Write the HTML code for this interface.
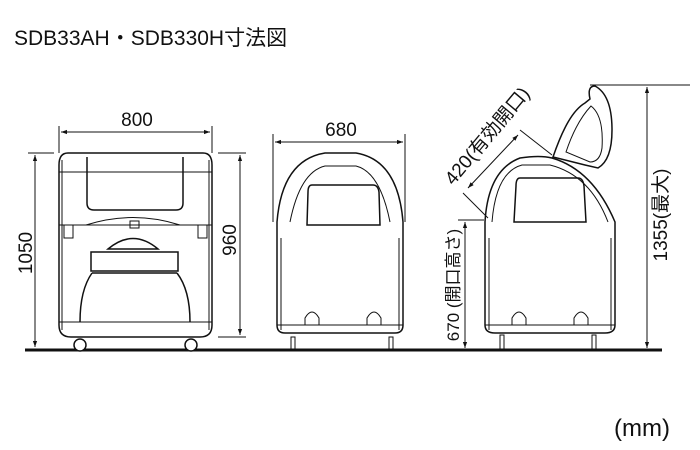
<!DOCTYPE html>
<html><head><meta charset="utf-8"><style>
html,body{margin:0;padding:0;background:#fff;width:700px;height:450px;overflow:hidden}
svg{display:block}
text{font-family:"Liberation Sans","Noto Sans CJK JP",sans-serif;fill:#111}
</style></head><body>
<svg width="700" height="450" viewBox="0 0 700 450">
<defs><marker id="a" viewBox="0 0 10 10" refX="10" refY="5" markerWidth="8" markerHeight="6" orient="auto-start-reverse"><path d="M0,1.5 L10,5 L0,8.5 z" fill="#111"/></marker></defs>
<text x="14" y="45" font-size="21" font-family="Noto Sans CJK JP, sans-serif">SDB33AH・SDB330H寸法図</text>
<text x="614" y="436" font-size="24" font-family="Noto Sans CJK JP, sans-serif">(mm)</text>
<g stroke="#111" stroke-width="1" fill="none">
<line x1="25" y1="350" x2="662" y2="350" stroke-width="3"/>
<!-- LEFT UNIT -->
<line x1="59" y1="126" x2="59" y2="153"/><line x1="212" y1="126" x2="212" y2="153"/>
<line x1="61" y1="132" x2="210" y2="132" marker-start="url(#a)" marker-end="url(#a)"/>
<line x1="28" y1="153" x2="54" y2="153"/>
<line x1="35" y1="155" x2="35" y2="347" marker-start="url(#a)" marker-end="url(#a)"/>
<line x1="218" y1="153" x2="246" y2="153"/><line x1="218" y1="337" x2="246" y2="337"/>
<line x1="240" y1="155" x2="240" y2="335" marker-start="url(#a)" marker-end="url(#a)"/>
<path fill="none" d="M68,153 H203 Q212,153 212,165 V325 Q212,337 200,337 H71 Q59,337 59,325 V165 Q59,153 68,153 Z" stroke-width="1.5"/>
<line x1="62" y1="160" x2="62" y2="330"/><line x1="209" y1="160" x2="209" y2="330"/>
<path fill="none" d="M87,157 V203 Q87,210 94,210 H176 Q183,210 183,203 V157" stroke-width="1.5"/>
<line x1="59" y1="172" x2="212" y2="172"/>
<line x1="59" y1="225" x2="212" y2="225"/>
<path fill="none" d="M86,225 Q133,210 180,225"/>
<rect fill="none" x="130" y="221" width="9" height="7"/>
<path fill="none" d="M64,225 V238 H73 V225 M198,225 V238 H207 V225"/>
<path fill="none" d="M108,249 Q133,228 158,249 Z" stroke-width="1.5"/>
<rect fill="none" x="91" y="252" width="87" height="19" stroke-width="1.5"/>
<path fill="none" d="M92,273 H177 M177,273 Q190,290 190,322 M92,273 Q80,290 80,322" stroke-width="1.5"/>
<line x1="59" y1="322" x2="212" y2="322"/>
<circle cx="80" cy="345" r="6" stroke-width="1.5" fill="#fff"/>
<circle cx="191" cy="345" r="6" stroke-width="1.5" fill="#fff"/>
<!-- MIDDLE UNIT -->
<line x1="273" y1="134" x2="273" y2="222"/><line x1="405" y1="134" x2="405" y2="222"/>
<line x1="275" y1="142" x2="403" y2="142" marker-start="url(#a)" marker-end="url(#a)"/>
<path fill="none" d="M277,222 Q282,160 325,153 H356 Q398,160 403,222 V325 Q403,333 395,333 H285 Q277,333 277,325 Z" stroke-width="1.5"/>
<path fill="none" d="M290,222 Q300,172 325,166 H356 Q380,172 390,222"/>
<path fill="none" d="M281,238 V330 M399,238 V330"/>
<path fill="none" d="M312,185 H373 Q378,185 379,192 L380,225 H307 L308,192 Q308,185 312,185 Z" stroke-width="1.5"/>
<line x1="277" y1="325" x2="403" y2="325"/>
<path fill="none" d="M305,325 V318 Q312,306 319,318 V325 M367,325 V318 Q374,306 381,318 V325"/>
<rect fill="none" x="291" y="337" width="4" height="13"/><rect fill="none" x="389" y="337" width="4" height="13"/>
<!-- RIGHT UNIT -->
<path fill="none" d="M485,222 Q488,170 520,158 Q540,155 552,158 Q593,170 615,222 V325 Q615,333 605,333 H495 Q485,333 485,325 Z" stroke-width="1.5"/>
<path fill="none" d="M492,222 Q496,172 522,165 H550 Q590,175 608,222"/>
<path fill="none" d="M489,238 V330 M611,238 V330"/>
<path fill="none" d="M520,178 H578 Q583,178 584,186 L586,222 H514 L516,186 Q516,178 520,178 Z" stroke-width="1.5"/>
<line x1="485" y1="325" x2="615" y2="325"/>
<path fill="none" d="M512,325 V318 Q519,306 526,318 V325 M574,325 V318 Q581,306 588,318 V325"/>
<rect fill="none" x="500" y="335" width="4" height="15"/><rect fill="none" x="592" y="335" width="4" height="15"/>
<path d="M553,157 C563,128 573,110 585,103 L590,99 Q587,86 595,86 Q612,95 612,130 Q612,160 598,168 L585,165 Z" stroke-width="1.5" fill="#fff"/>
<path fill="none" d="M566,152 Q576,122 591,106 Q604,116 602,148 Q600,162 590,162 Z"/>
<line x1="590" y1="85" x2="690" y2="85"/>
<line x1="647" y1="87" x2="647" y2="348" marker-start="url(#a)" marker-end="url(#a)"/>
<line x1="458" y1="220" x2="484" y2="220"/>
<line x1="465" y1="222" x2="465" y2="348" marker-start="url(#a)" marker-end="url(#a)"/>
<line x1="463" y1="193" x2="488" y2="218"/><line x1="520" y1="130" x2="552" y2="155"/>
<line x1="468" y1="188" x2="518" y2="135" marker-start="url(#a)" marker-end="url(#a)"/>
</g>
<text x="137" y="126" font-size="19" text-anchor="middle">800</text>
<text x="341" y="136" font-size="19" text-anchor="middle">680</text>
<text transform="translate(32,253) rotate(-90)" font-size="19" text-anchor="middle">1050</text>
<text transform="translate(236,240) rotate(-90)" font-size="19" text-anchor="middle">960</text>
<text transform="translate(667,215) rotate(-90)" font-size="19" text-anchor="middle">1355(最大)</text>
<text transform="translate(459,285) rotate(-90)" font-size="17" text-anchor="middle">670 (開口高さ)</text>
<text transform="translate(492,140) rotate(-50)" font-size="19" text-anchor="middle">420(有効開口)</text>
</svg>
</body></html>
